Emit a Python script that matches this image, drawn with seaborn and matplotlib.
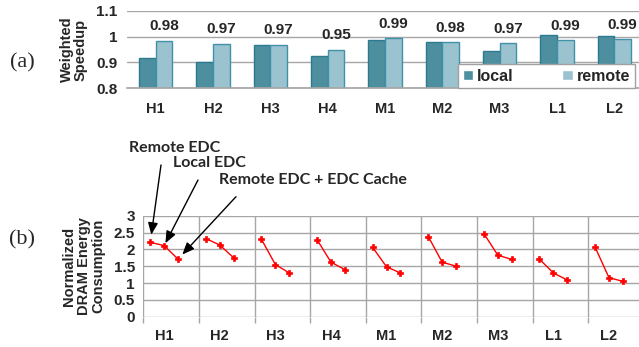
import numpy as np
import pandas as pd
import matplotlib
matplotlib.use("Agg")
import matplotlib.pyplot as plt
import seaborn as sns

# ---------------- data ----------------
benchmarks = ["H1", "H2", "H3", "H4", "M1", "M2", "M3", "L1", "L2"]
speedup_local = [0.918, 0.903, 0.968, 0.925, 0.985, 0.978, 0.944, 1.005, 1.001]
speedup_remote = [0.984, 0.971, 0.969, 0.950, 0.993, 0.978, 0.974, 0.986, 0.990]
remote_labels = ["0.98", "0.97", "0.97", "0.95", "0.99", "0.98", "0.97", "0.99", "0.99"]
speedup_ticks = [0.8, 0.9, 1.0, 1.1]
speedup_ticklabels = ["0.8", "0.9", "1", "1.1"]

energy_remote_edc = [2.21, 2.32, 2.30, 2.29, 2.06, 2.38, 2.47, 1.71, 2.07]
energy_local_edc = [2.11, 2.13, 1.55, 1.62, 1.48, 1.62, 1.83, 1.30, 1.16]
energy_remote_edc_cache = [1.71, 1.75, 1.30, 1.40, 1.30, 1.50, 1.70, 1.09, 1.05]
energy_ticks = [0, 0.5, 1, 1.5, 2, 2.5, 3]
energy_ticklabels = ["0", "0.5", "1", "1.5", "2", "2.5", "3"]
series_names = ["Remote EDC", "Local EDC", "Remote EDC + EDC Cache"]

# ---------------- tables ----------------
df_sp = pd.DataFrame({
    "bench": benchmarks * 2,
    "speedup": speedup_local + speedup_remote,
    "config": ["local"] * len(benchmarks) + ["remote"] * len(benchmarks),
})
rows = []
for g, b in enumerate(benchmarks):
    for s, vals in enumerate([energy_remote_edc, energy_local_edc, energy_remote_edc_cache]):
        rows.append({"bench": b, "x": 4 * g + s, "energy": vals[g]})
df_en = pd.DataFrame(rows)

# ---------------- style ----------------
sns.set_theme(style="white")
plt.rcParams["font.family"] = ["Liberation Sans", "DejaVu Sans"]
plt.rcParams["font.weight"] = "bold"

W, H = 639, 347
fig = plt.figure(figsize=(W / 100, H / 100), dpi=100)
grid_c = "#A6A6A6"

# ---------------- (a) speedup bars ----------------
ax1 = fig.add_axes([127 / W, (H - 88.3) / H, (643 - 127) / W, (88.3 - 10.7) / H])
local_c, remote_c = "#3F97AD", "#93C6D7"
sns.barplot(data=df_sp, x="bench", y="speedup", hue="config",
            palette={"local": local_c, "remote": remote_c},
            width=0.58, gap=0, ax=ax1, linewidth=1)
edge_cols = ["#2B7A8F", "#3F92A8"]
for cont, ec in zip(ax1.containers, edge_cols):
    for p in cont:
        p.set_edgecolor(ec)
        p.set_linewidth(1.0)
ax1.set_ylim(0.8, 1.1)
ax1.set_xlim(-0.5, 8.5)
ax1.set_yticks(speedup_ticks)
ax1.set_yticklabels(speedup_ticklabels, fontsize=11, fontweight="bold")
ax1.set_xticks(range(len(benchmarks)))
ax1.set_xticklabels(benchmarks, fontsize=10.5, fontweight="bold")
ax1.tick_params(axis="x", length=0, pad=10)
ax1.tick_params(axis="y", length=0, pad=7)
ax1.set_xlabel("")
ax1.set_ylabel("Weighted\nSpeedup", fontsize=10.5, fontweight="bold", labelpad=6,
               linespacing=1.0)
ax1.yaxis.grid(True, color=grid_c, lw=1)
ax1.set_axisbelow(True)
for side in ["left", "right", "top"]:
    ax1.spines[side].set_visible(False)
ax1.spines["bottom"].set_color(grid_c)
# remote value labels
remote_bars = ax1.containers[1]
for p, lab in zip(remote_bars, remote_labels):
    ax1.annotate(lab, (p.get_x() + p.get_width() / 2, p.get_height()),
                 xytext=(0, 10.5), textcoords="offset points",
                 ha="center", va="center", fontsize=11, fontweight="bold",
                 annotation_clip=False)
leg = ax1.legend(loc="lower left", bbox_to_anchor=(0.6415, 0.0, 0.343, 0.322),
                 mode="expand", ncol=2, borderaxespad=0, frameon=True,
                 fancybox=False, framealpha=1, edgecolor="#A0A0A0",
                 handlelength=0.65, handleheight=0.65, handletextpad=0.25,
                 columnspacing=1.2, prop={"size": 11.5, "weight": "bold"},
                 borderpad=0.3)
leg.get_frame().set_linewidth(1.0)

# ---------------- (b) energy lines ----------------
ax2 = fig.add_axes([143.3 / W, (H - 316.7) / H, (643.7 - 143.3) / W, (316.7 - 215.7) / H])
sns.lineplot(data=df_en, x="x", y="energy", units="bench", estimator=None,
             color="#FF0000", marker="P", markersize=5, markeredgecolor="#FF0000",
             markeredgewidth=0.5, linewidth=1.0, ax=ax2, legend=False)
n = len(benchmarks)
ax2.set_xlim(-0.5, 4 * n - 0.5)
ax2.set_ylim(0, 3)
ax2.set_yticks(energy_ticks)
ax2.set_yticklabels(energy_ticklabels, fontsize=11, fontweight="bold")
ax2.set_xticks([4 * g + 1 for g in range(n)])
ax2.set_xticklabels(benchmarks, fontsize=10.5, fontweight="bold")
ax2.set_xticks([4 * g - 0.5 for g in range(n + 1)], minor=True)
ax2.tick_params(axis="x", which="major", length=0, pad=9)
ax2.tick_params(axis="x", which="minor", length=4, width=1, color=grid_c, direction="out",
                bottom=True)
ax2.tick_params(axis="y", length=0, pad=6)
ax2.set_xlabel("")
ax2.set_ylabel("Normalized\nDRAM Energy\nConsumption", fontsize=10.5, fontweight="bold",
               labelpad=6, linespacing=1.05)
ax2.yaxis.grid(True, which="major", color=grid_c, lw=1)
ax2.xaxis.grid(True, which="minor", color=grid_c, lw=1)
ax2.set_axisbelow(True)
for side in ["left", "right", "top", "bottom"]:
    ax2.spines[side].set_visible(False)

# series annotations with arrows
ann_font = dict(family=["Lato", "DejaVu Sans"], weight="bold", fontsize=11.5)
text_pos = [(129, H - 148.3), (173, H - 163.3), (219, H - 180)]
arrow_start = [(161, H - 165), (198, H - 180), (236, H - 196.7)]
shrinks = [5.5, 2.0, 4.5]
first = df_en[df_en["bench"] == benchmarks[0]].reset_index(drop=True)
for i, name in enumerate(series_names):
    fig.text(text_pos[i][0] / W, text_pos[i][1] / H, name, ha="left", va="center",
             **ann_font)
    ax2.annotate("", xy=(first.loc[i, "x"], first.loc[i, "energy"]),
                 xytext=arrow_start[i], textcoords="figure pixels",
                 arrowprops=dict(arrowstyle="-|>,head_length=0.6,head_width=0.25",
                                 color="black", lw=1.0, shrinkA=0, shrinkB=shrinks[i]),
                 annotation_clip=False)

# panel tags
fig.text(22 / W, (H - 63) / H, "(a)", family=["Liberation Serif", "DejaVu Serif"],
         fontsize=16, ha="center", va="center", fontweight="normal")
fig.text(22 / W, (H - 240) / H, "(b)", family=["Liberation Serif", "DejaVu Serif"],
         fontsize=16, ha="center", va="center", fontweight="normal")

fig.savefig("out.png", dpi=100)
